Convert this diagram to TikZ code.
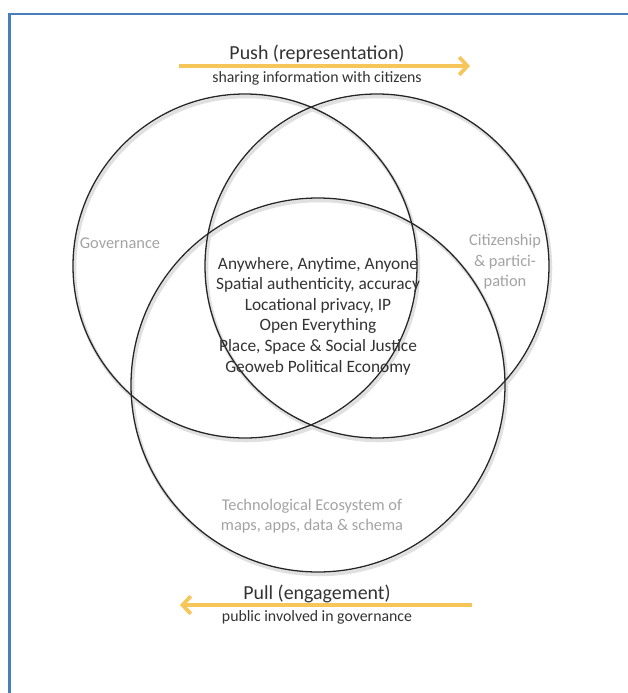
\documentclass[tikz,border=0pt]{standalone}
\usepackage{fontspec}
\setmainfont{Carlito}
\usepackage{xcolor}
\usepackage{tikz}
\usetikzlibrary{arrows.meta}

\definecolor{frameblue}{HTML}{4A7EBB}
\definecolor{flowyellow}{HTML}{F6C65B}
\definecolor{labelgray}{HTML}{A3A3A3}
\definecolor{textdark}{HTML}{333333}

\tikzset{
  ring/.style = {draw = black!85, line width = 1.1pt},
  ringshade/.style = {draw = black!12, line width = 3pt},
  flow/.style = {draw = flowyellow, line width = 3.2pt, -{Straight Barb[length = 7pt, width = 15pt]}},
  flowtitle/.style = {text = textdark, font = \fontsize{17}{20}\selectfont},
  flownote/.style = {text = textdark, font = \fontsize{13.5}{16}\selectfont},
  setlabel/.style = {text = labelgray, align = center, font = \fontsize{14}{17.6}\selectfont},
  coretext/.style = {text = textdark, align = center, font = \fontsize{14.8}{17.6}\selectfont}
}

\begin{document}
\begin{tikzpicture}[x = 0.03cm, y = -0.03cm]
    \useasboundingbox (0, 0) rectangle (628, 693);
    \draw[frameblue, line width = 2.4pt] (9.5, 693) -- (9.5, 14) -- (628, 14);
    \coordinate (gov) at (245, 266);
    \coordinate (cit) at (377, 266);
    \coordinate (tech) at (318, 385);
    \foreach \c/\r in {gov/172, cit/172, tech/187}
      {\draw[ringshade] ([shift = {(1.5, 2.5)}] \c) circle [radius = \r];}
    \foreach \c/\r in {gov/172, cit/172, tech/187}
      {\draw[ring] (\c) circle [radius = \r];}
    \node[setlabel] (govlabel) at (120, 243) {Governance};
    \node[setlabel] (citlabel) at (505, 262) {Citizenship\\\& partici-\\pation};
    \node[setlabel] (techlabel) at (312, 516) {Technological Ecosystem of\\maps, apps, data \& schema};
    \node[coretext] (core) at (318, 316)
      {Anywhere, Anytime, Anyone\\Spatial authenticity, accuracy\\Locational privacy, IP\\Open Everything\\Place, Space \& Social Justice\\Geoweb Political Economy};
    \node[flowtitle] (push) at (317, 54) {Push (representation)};
    \node[flownote] (share) at (317, 78) {sharing information with citizens};
    \coordinate (pushstart) at (179, 66);
    \coordinate (pushend) at (470, 66);
    \draw[flow] (pushstart) -- (pushend);
    \node[flowtitle] (pull) at (317, 594) {Pull (engagement)};
    \node[flownote] (involve) at (317, 617) {public involved in governance};
    \coordinate (pullstart) at (472, 605);
    \coordinate (pullend) at (180, 605);
    \draw[flow] (pullstart) -- (pullend);
  \end{tikzpicture}
\end{document}
